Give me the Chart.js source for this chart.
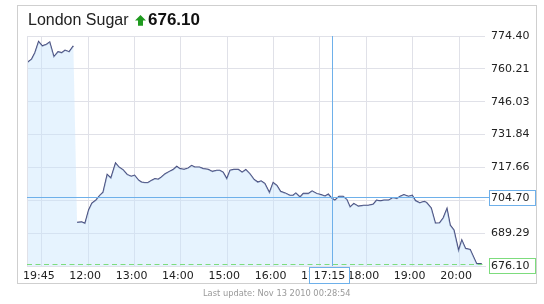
<!DOCTYPE html>
<html>
<head>
<meta charset="utf-8">
<script src="https://cdn.jsdelivr.net/npm/chart.js@4/dist/chart.umd.min.js"></script>
<style>
  html, body { margin: 0; padding: 0; background: #fff; }
  #wrap { position: relative; width: 544px; height: 304px; overflow: hidden; }
  #frame { position: absolute; left: 17px; top: 5px; width: 520px; height: 279px; border: 1px solid #cfcfcf; box-sizing: border-box; }
  #title { position: absolute; left: 28px; top: 12px; font: 16px "Liberation Sans", Arial, sans-serif; line-height: 16px; color: #222; white-space: nowrap; }
  #arrow { position: absolute; left: 135px; top: 15px; }
  #price { position: absolute; left: 148px; top: 11px; font: bold 17px "Liberation Sans", Arial, sans-serif; line-height: 17px; color: #111; }
  #updated { position: absolute; left: 203px; top: 288px; font: 8.3px "DejaVu Sans", Verdana, sans-serif; line-height: 10px; color: #9a9a9a; white-space: nowrap; }
  canvas { position: absolute; left: 0; top: 0; }
</style>
</head>
<body>
<div id="wrap">
  <div id="frame"></div>
  <canvas id="c" width="544" height="304"></canvas>
  <div id="title">London Sugar</div>
  <svg id="arrow" width="12" height="11" viewBox="0 0 12 11"><polygon points="5.5,0 11,5.5 8,5.5 8,10.7 3,10.7 3,5.5 0,5.5" fill="#1f9a1f"/></svg>
  <div id="price">676.10</div>
  <div id="updated">Last update: Nov 13 2010 00:28:54</div>
</div>
<script>
// ---- data ----
// x in session hours: 0 = 19:45 (previous session), 1 = 12:00, 2 = 13:00, ...
const prevTimes  = [-0.32, -0.22, -0.15, -0.07, 0.01, 0.10, 0.17, 0.26, 0.35, 0.43, 0.50, 0.59, 0.68];
const prevPrices = [762.9, 764.4, 767.2, 772.0, 770.1, 770.8, 771.8, 765.5, 767.6, 767.2, 768.3, 767.6, 770.1];

const dayTimes = [0.76, 0.86, 0.93, 1.01, 1.08, 1.17, 1.25, 1.32, 1.41, 1.49, 1.59, 1.67, 1.75, 1.84, 1.93, 2.00,
  2.09, 2.15, 2.22, 2.29, 2.37, 2.44, 2.51, 2.58, 2.66, 2.75, 2.83, 2.91, 2.98, 3.07, 3.16, 3.23, 3.30, 3.40,
  3.48, 3.59, 3.68, 3.77, 3.84, 3.91, 3.99, 4.06, 4.14, 4.24, 4.32, 4.40, 4.49, 4.58, 4.66, 4.73, 4.81, 4.91,
  4.99, 5.07, 5.15, 5.25, 5.35, 5.42, 5.48, 5.57, 5.64, 5.75, 5.83, 5.93, 6.02, 6.11, 6.18, 6.25, 6.32, 6.41,
  6.50, 6.58, 6.65, 6.73, 6.83, 6.94, 7.04, 7.15, 7.22, 7.30, 7.38, 7.48, 7.57, 7.66, 7.73, 7.81, 7.91, 7.99,
  8.06, 8.15, 8.25, 8.30, 8.40, 8.49, 8.58, 8.66, 8.74, 8.81, 8.89, 8.99, 9.06, 9.14, 9.24, 9.38, 9.49];
const dayPrices = [693.9, 694.1, 693.5, 699.3, 702.2, 703.6, 705.6, 706.9, 714.6, 713.1, 719.5, 717.7, 716.7, 714.6, 713.8, 714.3,
  712.1, 711.3, 711.1, 711.1, 712.1, 712.8, 712.5, 713.5, 714.9, 715.9, 716.7, 718.1, 717.1, 716.8, 717.4, 718.5, 717.8, 717.8,
  717.1, 716.8, 715.9, 716.4, 716.4, 715.6, 712.8, 716.4, 716.8, 716.8, 715.6, 716.7, 714.9, 712.4, 711.3, 711.8, 710.7, 706.8,
  711.1, 709.9, 707.3, 706.6, 705.6, 705.6, 706.6, 704.9, 706.4, 706.4, 707.5, 706.4, 705.9, 705.3, 706.1, 704.5, 703.5, 705.2,
  705.2, 703.8, 700.6, 702.1, 700.9, 701.3, 701.3, 701.8, 703.5, 703.2, 703.5, 703.5, 704.6, 704.2, 705.2, 705.9, 705.2, 705.6,
  703.3, 702.4, 703.0, 702.5, 700.1, 693.6, 693.7, 695.9, 699.9, 692.7, 690.6, 681.8, 686.3, 682.7, 682.2, 676.1, 676.1];

const xTickValues = [0, 1, 2, 3, 4, 5, 6, 7, 8, 9];
const xTickLabels = ["19:45", "12:00", "13:00", "14:00", "15:00", "16:00", "17:00", "18:00", "19:00", "20:00"];
const yTickValues = [774.40, 760.21, 746.03, 731.84, 717.66, 703.47, 689.29, 675.10];

const lastPrice = 676.10;
const crossTime = 6.25, crossLabel = "17:15", crossPrice = 704.70;

// ---- build datasets ----
const allPts = prevTimes.map((t, i) => ({x: t, y: prevPrices[i]}))
  .concat(dayTimes.map((t, i) => ({x: t, y: dayPrices[i]})));
const linePts = prevTimes.map((t, i) => ({x: t, y: prevPrices[i]}))
  .concat([{x: (prevTimes[prevTimes.length-1] + dayTimes[0]) / 2, y: null}])
  .concat(dayTimes.map((t, i) => ({x: t, y: dayPrices[i]})));

const FONT = "'DejaVu Sans', Verdana, sans-serif";
const GRID = '#e0e1e8';
const BLUE = '#6eb0ea';
const GREEN = '#7ddc7d';

const overlay = {
  id: 'overlay',
  afterDatasetsDraw(chart) {
    const {ctx, chartArea: a, scales: {x, y}} = chart;
    ctx.save();
    // left plot border
    ctx.strokeStyle = GRID; ctx.lineWidth = 1;
    ctx.beginPath(); ctx.moveTo(a.left + 0.5, a.top); ctx.lineTo(a.left + 0.5, a.bottom); ctx.stroke();
    // last price dashed line
    const yl = Math.round(y.getPixelForValue(lastPrice)) + 0.5;
    ctx.strokeStyle = GREEN; ctx.setLineDash([5, 3.5]);
    ctx.beginPath(); ctx.moveTo(a.left, yl); ctx.lineTo(a.right, yl); ctx.stroke();
    ctx.setLineDash([]);
    // crosshair
    const yc = Math.round(y.getPixelForValue(crossPrice)) + 0.5;
    const xc = Math.round(x.getPixelForValue(crossTime)) + 0.5;
    ctx.strokeStyle = BLUE;
    ctx.beginPath(); ctx.moveTo(a.left, yc); ctx.lineTo(a.right + 4, yc); ctx.stroke();
    ctx.beginPath(); ctx.moveTo(xc, a.top); ctx.lineTo(xc, a.bottom); ctx.stroke();
    ctx.restore();
  },
  afterDraw(chart) {
    const {ctx, chartArea: a, scales: {x, y}} = chart;
    ctx.save();
    ctx.font = '11px ' + FONT;
    ctx.textBaseline = 'middle';
    function box(bx, by, w, h, color, text, align) {
      ctx.fillStyle = '#fff';
      ctx.fillRect(bx, by, w, h);
      ctx.strokeStyle = color; ctx.lineWidth = 1;
      ctx.strokeRect(bx + 0.5, by + 0.5, w - 1, h - 1);
      ctx.fillStyle = '#222';
      ctx.textAlign = align;
      if (align === 'left') ctx.fillText(text, bx + 2, by + h / 2 + 0.5);
      else ctx.fillText(text, bx + w / 2, by + h / 2 + 0.5);
    }
    const yc = y.getPixelForValue(crossPrice);
    box(a.right + 4, Math.round(yc) - 7, 47, 16, BLUE, crossPrice.toFixed(2), 'left');
    const yl = y.getPixelForValue(lastPrice);
    box(a.right + 4, Math.round(yl) - 6, 47, 16, GREEN, lastPrice.toFixed(2), 'left');
    const xc = x.getPixelForValue(crossTime);
    box(Math.round(xc) - 23, a.bottom + 1, 41, 17, BLUE, crossLabel, 'center');
    ctx.restore();
  }
};

new Chart(document.getElementById('c'), {
  type: 'line',
  data: {
    datasets: [
      { data: allPts, borderWidth: 0, borderColor: 'rgba(0,0,0,0)', pointRadius: 0,
        fill: 'start', backgroundColor: 'rgba(200,228,253,0.45)', tension: 0 },
      { data: linePts, borderWidth: 1.3, borderColor: '#3a3f72', pointRadius: 0,
        fill: false, spanGaps: false, tension: 0 }
    ]
  },
  options: {
    responsive: false,
    animation: false,
    events: [],
    layout: { padding: { left: 27, top: 36, right: 0, bottom: 0 } },
    plugins: { legend: { display: false }, tooltip: { enabled: false }, title: { display: false } },
    scales: {
      x: {
        type: 'linear', position: 'bottom',
        min: -0.32, max: 9.56,
        afterBuildTicks: s => { s.ticks = xTickValues.map(v => ({value: v})); },
        afterFit: s => { s.height = 38; },
        grid: { color: GRID, drawTicks: false },
        border: { display: true, color: GRID },
        ticks: {
          autoSkip: false, maxRotation: 0, padding: 4, labelOffset: -3,
          color: '#222', font: { family: FONT, size: 11 },
          callback: (v) => { const i = xTickValues.indexOf(v); return i >= 0 ? xTickLabels[i] : ''; }
        }
      },
      y: {
        type: 'linear', position: 'right',
        min: 675.10, max: 774.40,
        afterBuildTicks: s => { s.ticks = yTickValues.map(v => ({value: v})); },
        afterFit: s => { s.width = 59; },
        grid: { color: GRID, drawTicks: false },
        border: { display: false },
        ticks: {
          padding: 6, crossAlign: 'near',
          color: '#222', font: { family: FONT, size: 11 },
          callback: v => Number(v).toFixed(2)
        }
      }
    }
  },
  plugins: [overlay]
});
</script>
</body>
</html>
